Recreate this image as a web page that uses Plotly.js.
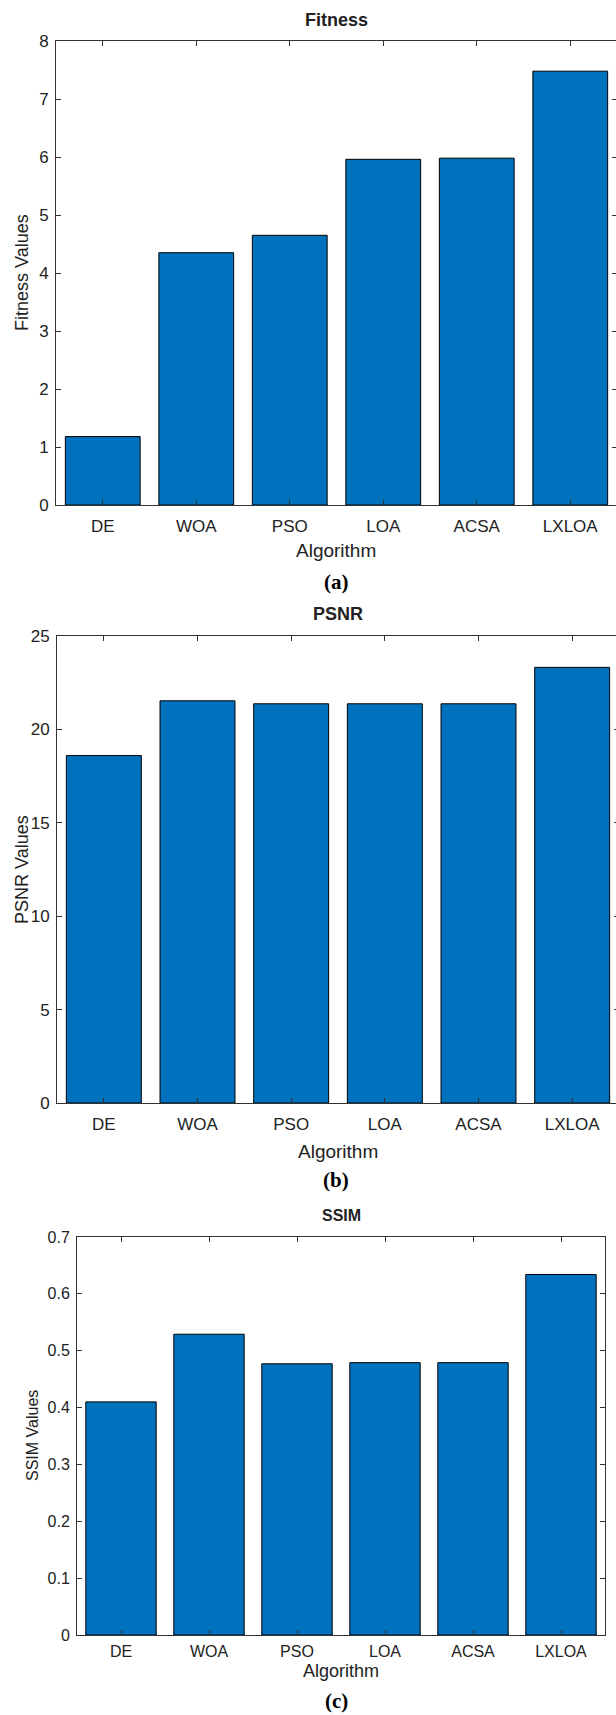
<!DOCTYPE html>
<html>
<head>
<meta charset="utf-8">
<script src="https://cdn.plot.ly/plotly-3.0.1.min.js"></script>
<style>
html,body{margin:0;padding:0;overflow:hidden;background:#fff;}
#chart{width:620px;height:1715px;}
</style>
</head>
<body>
<div id="chart"></div>
<script>
const categories = ["DE","WOA","PSO","LOA","ACSA","LXLOA"];
const fitnessValues = [1.18, 4.35, 4.65, 5.96, 5.98, 7.48];
const psnrValues = [18.6, 21.53, 21.37, 21.37, 21.37, 23.32];
const ssimValues = [0.41, 0.529, 0.477, 0.479, 0.479, 0.634];
const fitnessTicks = [0,1,2,3,4,5,6,7,8];
const psnrTicks = [0,5,10,15,20,25];
const ssimTicks = [0,0.1,0.2,0.3,0.4,0.5,0.6,0.7];

const W = 620, H = 1715;
const barColor = "#0072BD";
const font = "Arial, 'Liberation Sans', Helvetica, sans-serif";
const serif = "'Times New Roman', 'Liberation Serif', serif";

function bar(vals, xa, ya){
  return {type:"bar", x:categories, y:vals, xaxis:xa, yaxis:ya, width:0.8,
    marker:{color:barColor, line:{color:"#000", width:1}}, hoverinfo:"x+y", showlegend:false};
}
function xax(l, r, anchor, fs, so){
  return {domain:[l/W, r/W], anchor:anchor, type:"category", range:[-0.5,5.5],
    showline:true, linecolor:"#333", linewidth:1, mirror:"ticks", ticks:"inside", ticklen:5,
    tickcolor:"#333", showgrid:false, zeroline:false, fixedrange:true, ticklabelstandoff:so,
    tickfont:{family:font, size:fs, color:"#222"}};
}
function yax(t, b, anchor, rng, tv, fs){
  return {domain:[1-b/H, 1-t/H], anchor:anchor, range:rng, tickvals:tv,
    showline:true, linecolor:"#333", linewidth:1, mirror:"ticks", ticks:"inside", ticklen:5,
    tickcolor:"#333", showgrid:false, zeroline:false, fixedrange:true, ticklabelstandoff:3,
    tickfont:{family:font, size:fs, color:"#222"}};
}
function ann(text, x, y, size, opts){
  return Object.assign({text:text, xref:"paper", yref:"paper", x:x/W, y:1-y/H,
    xanchor:"center", yanchor:"middle", showarrow:false,
    font:{family:font, size:size, color:"#222"}}, opts||{});
}

const data = [
  bar(fitnessValues, "x", "y"),
  bar(psnrValues, "x2", "y2"),
  bar(ssimValues, "x3", "y3")
];

const layout = {
  width:W, height:H, margin:{l:0,r:0,t:0,b:0},
  paper_bgcolor:"#fff", plot_bgcolor:"#fff", bargap:0.2,
  xaxis: xax(56, 617, "y", 17, 6),
  yaxis: yax(41, 505, "x", [0,8], fitnessTicks, 17),
  xaxis2: xax(57, 619, "y2", 17, 6),
  yaxis2: yax(636, 1103, "x2", [0,25], psnrTicks, 17),
  xaxis3: xax(77, 605, "y3", 16, 2),
  yaxis3: yax(1237, 1635, "x3", [0,0.7], ssimTicks, 16),
  annotations:[
    ann("<b>Fitness</b>", 336, 20, 18),
    ann("Algorithm", 336, 551, 19),
    ann("<b>(a)</b>", 336, 582, 21, {font:{family:serif, size:21, color:"#000"}}),
    ann("Fitness Values", 22, 273, 18, {textangle:-90}),

    ann("<b>PSNR</b>", 338, 614, 18),
    ann("Algorithm", 338, 1151, 19),
    ann("<b>(b)</b>", 336, 1180, 21, {font:{family:serif, size:21, color:"#000"}}),
    ann("PSNR Values", 22, 870, 18, {textangle:-90}),

    ann("<b>SSIM</b>", 341, 1215, 16),
    ann("Algorithm", 341, 1671, 18),
    ann("<b>(c)</b>", 336, 1701, 21, {font:{family:serif, size:21, color:"#000"}}),
    ann("SSIM Values", 32, 1436, 16, {textangle:-90})
  ]
};

Plotly.newPlot("chart", data, layout, {displayModeBar:false, staticPlot:true});
</script>
</body>
</html>
